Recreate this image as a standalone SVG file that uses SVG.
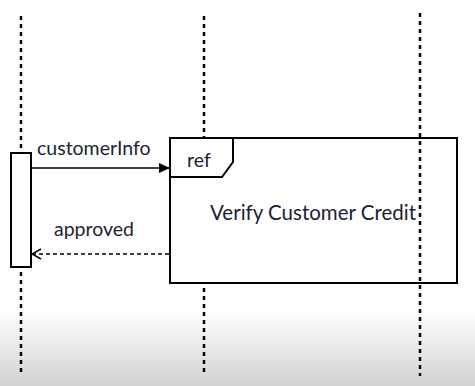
<svg xmlns="http://www.w3.org/2000/svg" width="475" height="386" viewBox="0 0 475 386">
<defs>
<linearGradient id="bg" x1="0" y1="0" x2="0" y2="1">
<stop offset="0" stop-color="#ffffff"/>
<stop offset="1" stop-color="#d2d2d2"/>
</linearGradient>
<marker id="filled" markerWidth="12" markerHeight="10" refX="11" refY="5" orient="auto" markerUnits="userSpaceOnUse">
<path d="M0,0 L11,5 L0,10 Z" fill="#000"/>
</marker>
<marker id="open" markerWidth="12" markerHeight="12" refX="1" refY="6" orient="auto" markerUnits="userSpaceOnUse">
<path d="M10,1 L1,6 L10,11" fill="none" stroke="#000" stroke-width="1.5"/>
</marker>
</defs>
<style>
.life{stroke:#000;stroke-width:2.5;stroke-dasharray:4 4;fill:none}
.box{fill:#fff;stroke:#000;stroke-width:2}
.lbl{font-family:Lato,"Open Sans",sans-serif;font-size:19.5px;fill:#1c2333}
</style>
<rect x="0" y="0" width="475" height="310" fill="#fff"/>
<rect x="0" y="310" width="475" height="76" fill="url(#bg)"/>
<g id="lifelines">
<line class="life" x1="21" y1="16" x2="21" y2="376"/>
<line class="life" x1="204" y1="16" x2="204" y2="376"/>
</g>
<g id="activation">
<rect class="box" x="11" y="153" width="20" height="114"/>
</g>
<g id="ref-frame">
<rect class="box" x="170" y="138" width="287" height="145"/>
<path d="M170,138 L233,138 L233,162 L222,177 L170,177" fill="none" stroke="#000" stroke-width="2"/>
<text class="lbl" x="187" y="167">ref</text>
<text class="lbl" x="210" y="220" style="font-size:20.5px">Verify Customer Credit</text>
</g>
<g id="lifeline-right">
<line class="life" x1="420" y1="13" x2="420" y2="376"/>
</g>
<g id="connectors">
<line x1="31" y1="168" x2="170" y2="168" stroke="#000" stroke-width="1.5" marker-end="url(#filled)"/>
<text class="lbl" x="37" y="155">customerInfo</text>
<line x1="32" y1="254" x2="170" y2="254" stroke="#000" stroke-width="1.5" stroke-dasharray="4 3" marker-start="url(#open)"/>
<text class="lbl" x="54" y="236">approved</text>
</g>
</svg>
